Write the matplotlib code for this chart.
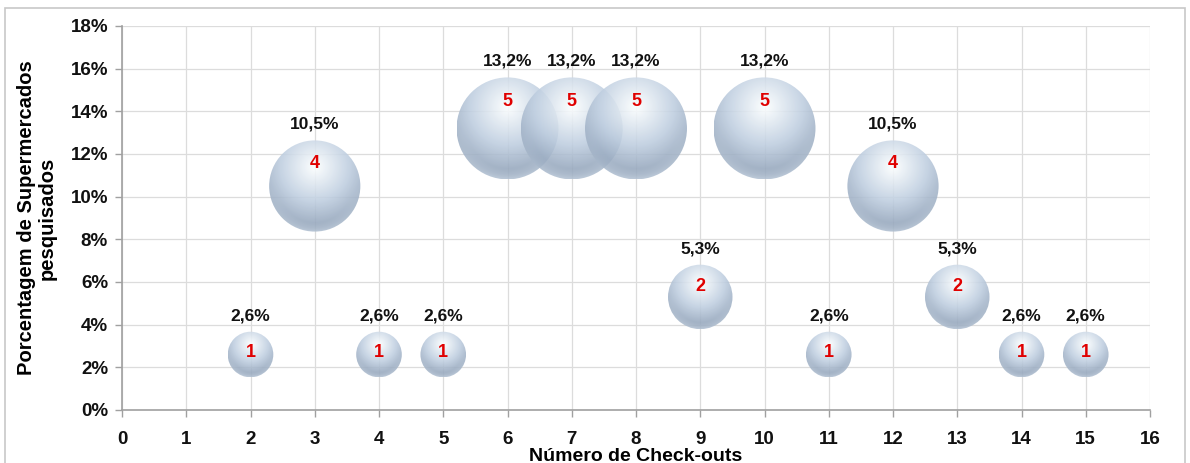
import numpy as np
import matplotlib
matplotlib.use("Agg")
import matplotlib.pyplot as plt
from matplotlib.patches import Ellipse, Rectangle
from matplotlib.ticker import FuncFormatter, MultipleLocator

plt.rcParams['font.family'] = ['Liberation Sans', 'DejaVu Sans']

# Number of check-outs, supermarket count and share of surveyed supermarkets
checkouts = [2, 3, 4, 5, 6, 7, 8, 9, 10, 11, 12, 13, 14, 15]
counts = [1, 4, 1, 1, 5, 5, 5, 2, 5, 1, 4, 2, 1, 1]
percents = [2.6, 10.5, 2.6, 2.6, 13.2, 13.2, 13.2, 5.3, 13.2, 2.6, 10.5, 5.3, 2.6, 2.6]
pct_labels = ["2,6%", "10,5%", "2,6%", "2,6%", "13,2%", "13,2%", "13,2%",
              "5,3%", "13,2%", "2,6%", "10,5%", "5,3%", "2,6%", "2,6%"]

W, H, DPI = 1190, 463, 100
fig = plt.figure(figsize=(W / DPI, H / DPI), dpi=DPI)
fig.patch.set_facecolor("white")
fig.add_artist(Rectangle((5 / W, -0.01), 1180 / W, 1 - 8 / H + 0.01,
                         transform=fig.transFigure, fill=False,
                         edgecolor="#c8c8c8", linewidth=1.2))

left, right, top, bottom = 122 / W, 1150 / W, 1 - 26 / H, 1 - 410 / H
ax = fig.add_axes([left, bottom, right - left, top - bottom])
ax.set_xlim(0, 16)
ax.set_ylim(0, 18)
ax.xaxis.set_major_locator(MultipleLocator(1))
ax.yaxis.set_major_locator(MultipleLocator(2))
ax.yaxis.set_major_formatter(FuncFormatter(lambda v, p: f"{v:.0f}%"))
ax.grid(True, color="#dcdcdc", linewidth=0.9)
ax.set_axisbelow(True)
for s in ["top", "right"]:
    ax.spines[s].set_visible(False)
for s in ["left", "bottom"]:
    ax.spines[s].set_color("#a0a0a0")
    ax.spines[s].set_linewidth(1.2)
ax.tick_params(axis="both", colors="#a0a0a0", length=5, width=1.0,
               labelcolor="#111111", labelsize=13.5)
for lab in ax.get_xticklabels() + ax.get_yticklabels():
    lab.set_fontweight("bold")
ax.tick_params(axis="x", pad=10)
ax.tick_params(axis="y", pad=5)

ax.set_xlabel("Número de Check-outs", fontsize=14, fontweight="bold", labelpad=0)
ax.set_ylabel("Porcentagem de Supermercados\npesquisados", fontsize=14.5,
              fontweight="bold", linespacing=1.15)
ax.yaxis.set_label_coords(-65 / (ax.get_position().width * W), 0.5)

# pixels per data unit
px_x = (right - left) * W / 16
px_y = (top - bottom) * H / 18

# sphere shading texture
N = 240
u = np.linspace(-1, 1, N)
U, V = np.meshgrid(u, u)
R = np.sqrt(U ** 2 + V ** 2)
D = np.sqrt((U * 1.0) ** 2 + (V - 0.42) ** 2)
t = np.clip(D / 1.35, 0, 1)
c_hi = np.array([0.99, 1.0, 1.0])
c_mid = np.array([0.75, 0.81, 0.88])
c_lo = np.array([0.55, 0.62, 0.71])
img = np.zeros((N, N, 4))
w1 = np.clip(t / 0.55, 0, 1)[..., None]
w2 = np.clip((t - 0.55) / 0.45, 0, 1)[..., None]
col = c_hi * (1 - w1) + c_mid * w1
col = col * (1 - w2) + c_lo * w2
# soft reflected light near the lower rim
rim = np.clip((R - 0.80) / 0.2, 0, 1) * np.clip(-V, 0, 1)
col = col + (np.array([0.82, 0.87, 0.92]) - col) * (0.55 * rim)[..., None]
img[..., :3] = np.clip(col, 0, 1)
img[..., 3] = 0.88

r_unit = 22.8  # pixel radius of a single-supermarket bubble
for i, (x, n, p, lab) in enumerate(zip(checkouts, counts, percents, pct_labels)):
    r = r_unit * np.sqrt(n)
    wx = r / px_x
    hy = r / px_y
    ell = Ellipse((x, p), 2 * wx, 2 * hy, transform=ax.transData,
                  facecolor="none", edgecolor="none")
    ax.add_patch(ell)
    im = ax.imshow(img, extent=(x - wx, x + wx, p - hy, p + hy), origin="lower",
                   interpolation="bilinear", zorder=3 + i, aspect="auto")
    im.set_clip_path(ell)
    # count inside bubble
    off = max(0.0, 0.9 * (r - 21)) / px_y
    ax.text(x, p + off, str(n), color="#e00000", fontsize=13, fontweight="bold",
            ha="center", va="center", zorder=30)
    # percentage above bubble
    ax.text(x, p + hy + 16 / px_y, lab, color="#111111", fontsize=12.5,
            fontweight="bold", ha="center", va="center", zorder=30)

ax.set_xlim(0, 16)
ax.set_ylim(0, 18)
fig.savefig("out.png", dpi=DPI)
